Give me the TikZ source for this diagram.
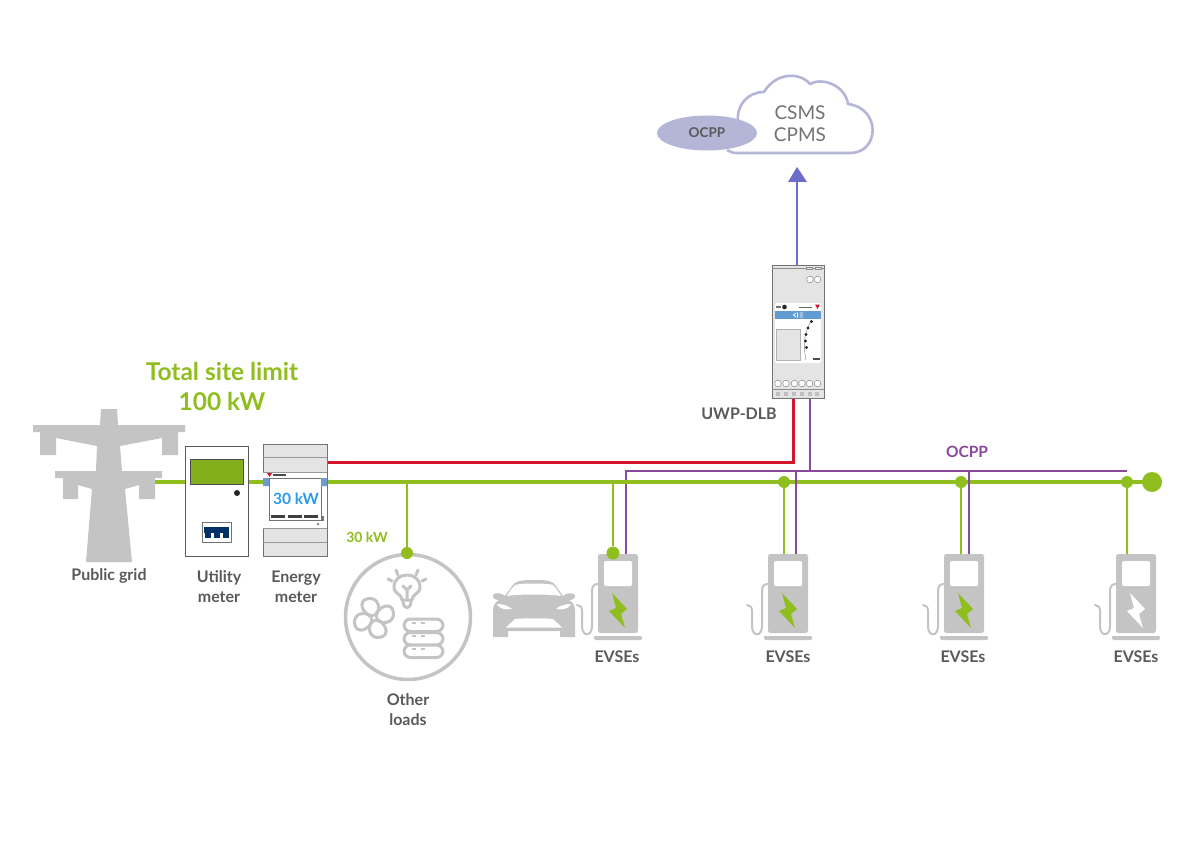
\documentclass[tikz,border=0pt]{standalone}
\usepackage{fontspec}
\setmainfont{Lato}
\usetikzlibrary{calc,shapes.geometric}
\definecolor{leaf}{HTML}{8FBE1E}
\definecolor{silver}{HTML}{C4C4C4}
\definecolor{panel}{HTML}{E4E4E4}
\definecolor{ink}{HTML}{5A5A5A}
\definecolor{wine}{HTML}{8A4A9C}
\definecolor{signal}{HTML}{D5152B}
\definecolor{lilac}{HTML}{B5B5D8}
\definecolor{violet}{HTML}{6C6CCB}
\definecolor{sky}{HTML}{2A9BE8}
\definecolor{tab}{HTML}{6B9BD0}
\tikzset{
  caption/.style={text=ink,font=\bfseries\fontsize{16}{20}\selectfont,align=center,inner sep=0pt},
  busline/.style={draw=leaf,line width=4pt},
  dropline/.style={draw=leaf,line width=2.8pt},
  dataline/.style={draw=wine,line width=2.8pt},
  powerdot/.style={circle,fill=leaf,inner sep=0pt},
  junction/.style={powerdot,minimum size=13pt},
  hosecurve/.style={draw=silver,line width=2pt,line cap=round},
  loadicon/.style={draw=silver,line width=3pt,line cap=round,line join=round},
  evsebody/.style={fill=silver,rounded corners=2.5pt,inner sep=0pt,minimum width=40pt,minimum height=79pt},
  casing/.style={draw=black!55,line width=.7pt,fill=panel}
}
% Charging post: body, screen, base, hose and lightning bolt
\newcommand{\chargepost}[3]{%
  \node[evsebody] (#2) at (#1+20,593.5) {};
  \begin{scope}[shift={(#1,0)}]
    \fill[white,rounded corners=1.5pt] (6,561) rectangle (34,586);
    \fill[silver,rounded corners=1.5pt] (-4,640) -- (-4,638) .. controls (-4,637) and (-3,636) .. (-2,636) -- (42,636) .. controls (43,636) and (44,637) .. (44,640) -- cycle;
    \draw[hosecurve] (0,584) .. controls (-4,584) and (-6,586) .. (-6,591) -- (-6,626)
      .. controls (-6,637) and (-16,637) .. (-16,626) -- (-16,611) .. controls (-16,607) and (-18,605) .. (-21,605);
    \fill[#3] (14,593) -- (29,609) -- (23,614) -- (27,628) -- (11,611) -- (18,608) -- cycle;
  \end{scope}}
\begin{document}
\begin{tikzpicture}[x=1pt,y=-1pt]
\useasboundingbox (0,0) rectangle (1200,848);
\fill[white] (0,0) rectangle (1200,848);

% Anchors of the supply bus and of the controller's terminals
\coordinate (busStart) at (155,482);
\coordinate (busEnd) at (1152,482);
\coordinate (meterOut) at (327,462);
\coordinate (redTerm) at (793,398);
\coordinate (wineTerm) at (810,398);
\coordinate (ocppStart) at (626,471);
\coordinate (ocppEnd) at (1127,471);

% Charging posts
\chargepost{598}{postA}{leaf}
\chargepost{768}{postB}{leaf}
\chargepost{944}{postC}{leaf}
\chargepost{1116}{postD}{white}

% Loads circle
\node[circle,draw=silver,line width=3.5pt,minimum size=125pt,inner sep=0pt] (loads) at (408,617) {};

% Wiring
\draw[draw=signal,line width=3pt] (meterOut) -- (redTerm |- meterOut) -- (redTerm);
\draw[dataline] (wineTerm) -- (wineTerm |- ocppEnd);
\draw[dataline] (ocppEnd) -- (ocppStart) -- (ocppStart |- postA.north);
\draw[busline] (busStart) -- (busEnd);
\node[powerdot,minimum size=20pt] (busTail) at (busEnd) {};
\node[junction,minimum size=12pt] (tapLoads) at (407,553) {};
\node[junction] (tapA) at (613,553) {};
\node[junction,minimum size=12pt] (tapB) at (784,482) {};
\node[junction,minimum size=12pt] (tapC) at (961,482) {};
\node[junction,minimum size=12pt] (tapD) at (1127,482) {};
\draw[dropline] (tapLoads) -- (407,482);
\draw[dropline] (tapA) -- (613,482);
\draw[dropline] (tapB) -- (tapB |- postB.north);
\draw[dropline] (tapC) -- (tapC |- postC.north);
\draw[dropline] (tapD) -- (tapD |- postD.north);
\coordinate (wineB) at (796,471);
\coordinate (wineC) at (969,471);
\draw[dataline] (wineB) -- (wineB |- postB.north);
\draw[dataline] (wineC) -- (wineC |- postC.north);

% Transmission pylon
\fill[silver] (101,409) -- (117,409) -- (118,425) -- (185,425) -- (185,432) -- (178,432) -- (178,455) -- (162,455) -- (162,438)
  -- (120,446) -- (122,471) -- (162,471) -- (162,478) -- (155,478) -- (155,499) -- (139,499) -- (139,485) -- (125,489)
  -- (132,562) -- (86,562) -- (92,489) -- (78,485) -- (78,499) -- (63,499) -- (63,478) -- (55,478) -- (55,471) -- (96,471)
  -- (97,446) -- (56,438) -- (56,455) -- (40,455) -- (40,432) -- (33,432) -- (33,425) -- (100,425) -- cycle;
\node[caption] (gridLabel) at (109,576) {Public grid};

% Utility meter
\node[draw=black!65,line width=.8pt,fill=white,minimum width=63pt,minimum height=110pt,inner sep=0pt] (utility) at (216.5,501) {};
\fill[leaf!92!black,draw=black!70,line width=.7pt] (190,459) rectangle (243,484);
\fill[black!85] (237,493) circle (3);
\draw[draw=black!55,line width=.7pt,fill=white] (202,522) rectangle (231,542);
\fill[blue!35!teal!60!black] (204,527) rectangle (229,533);
\foreach \xx in {205,214,223} \fill[blue!35!teal!60!black] (\xx,533) rectangle (\xx+5.5,538);
\node[caption] (utilityLabel) at (219,587) {Utility\\meter};

% Energy meter
\node[casing,minimum width=64pt,minimum height=112pt,inner sep=0pt] (energy) at (295,500) {};
\fill[white] (263.4,472) rectangle (326.6,528);
\draw[black!40,line width=.6pt] (263,457) -- (327,457) (263,472) -- (327,472) (263,528) -- (327,528) (263,542) -- (327,542);
\fill[signal] (267,473) -- (272,473) -- (269.5,477) -- cycle;
\fill[black!70] (273,474) rectangle (286,475.5);
\draw[draw=black!55,line width=.7pt,fill=white] (269,478) rectangle (321,520);
\fill[tab] (263,478) rectangle (269,486) (321,478) rectangle (327,486);
\foreach \xx in {271,288,304} \fill[black!75] (\xx,515) rectangle (\xx+14,518);
\fill[black!45] (318,524) circle (1.5);
\fill[black!55] (322,516) rectangle (323.5,521);
\node[text=sky,font=\bfseries\fontsize{15.5}{18}\selectfont,inner sep=0pt] (meterValue) at (296,499) {30 kW};
\node[caption] (energyLabel) at (296,587) {Energy\\meter};

% Site limit heading
\node[text=leaf,font=\bfseries\fontsize{24.5}{30}\selectfont,align=center,inner sep=0pt] (limit) at (222,386) {Total site limit\\100 kW};

% Other loads: bulb, fan and stacked units
\node[text=leaf,font=\bfseries\fontsize{14}{17}\selectfont,inner sep=0pt] (loadValue) at (367,537) {30 kW};
\draw[loadicon] (402,600) .. controls (402,594) and (394,594) .. (394,587) .. controls (394,571) and (420,571) .. (420,587) .. controls (420,594) and (412,594) .. (412,600) -- cycle;
\draw[loadicon] (403,601) .. controls (403,610) and (411,610) .. (411,601);
\draw[loadicon] (407,598) -- (407,590) (407,590) -- (403,586) (407,590) -- (411,586);
\draw[loadicon] (396,570) -- (398,575) (418,570) -- (416,575) (388,579) -- (392,581) (426,579) -- (422,581);
\foreach \ang in {8,98,188,278}
  \draw[loadicon,shift={(374,618)},rotate=\ang]
    (0,0) .. controls (-12,-6) and (-14,-20) .. (-3,-20) .. controls (8,-20) and (9,-7) .. (0,0);
\fill[white] (374,618) circle (3);
\draw[silver,line width=2.5pt] (374,618) circle (3);
\foreach \yy in {619,632.5,645}
  \draw[loadicon,rounded corners=6.5pt,fill=white] (404,\yy) rectangle (443,\yy+12.5);
\foreach \yy in {623,636,649}
  \draw[silver,line width=1.5pt] (412,\yy) -- (416,\yy) (421,\yy) -- (425,\yy);
\node[caption] (loadsLabel) at (408,710) {Other\\loads};

% Electric car, front view
\fill[silver] (512,586) .. controls (515,581) and (520,580) .. (534,580) .. controls (548,580) and (553,581) .. (556,586)
  -- (563,596) .. controls (566,593) and (573,592) .. (575,595) .. controls (576,598) and (573,600) .. (569,600)
  .. controls (574,603) and (575,606) .. (575,612) -- (575,637) -- (560,637) -- (560,631) -- (508,631) -- (508,637) -- (493,637)
  -- (493,612) .. controls (493,606) and (494,603) .. (499,600) .. controls (495,600) and (492,598) .. (493,595)
  .. controls (495,592) and (502,593) .. (505,596) -- cycle;
\fill[white] (515,585) .. controls (520,583) and (548,583) .. (553,585) .. controls (556,588) and (559,592) .. (561,596)
  .. controls (550,594) and (518,594) .. (507,596) .. controls (509,592) and (512,588) .. (515,585) -- cycle;
\fill[white] (497,604) .. controls (503,604) and (509,606) .. (512,609) .. controls (506,610) and (499,609) .. (497,604) -- cycle;
\fill[white] (571,604) .. controls (565,604) and (559,606) .. (556,609) .. controls (562,610) and (569,609) .. (571,604) -- cycle;
\fill[white] (515,619) .. controls (525,618) and (543,618) .. (553,619) -- (562,627.5) -- (506,627.5) -- cycle;

% Post captions
\node[caption] (labelA) at (617,657) {EVSEs};
\node[caption] (labelB) at (788,657) {EVSEs};
\node[caption] (labelC) at (963,657) {EVSEs};
\node[caption] (labelD) at (1136,657) {EVSEs};
\node[text=wine,font=\bfseries\fontsize{15.5}{18}\selectfont,inner sep=0pt] (busProtocol) at (967,452) {OCPP};

% DLB controller
\node[casing,minimum width=52pt,minimum height=133pt,inner sep=0pt] (uwp) at (798,331.5) {};
\fill[white,rounded corners=1.5pt] (775,303) rectangle (821,363);
\draw[black!45,line width=.6pt] (772,268.5) -- (824,268.5) (772,389) -- (824,389);
\draw[black!45,line width=.6pt,fill=panel] (806,267) rectangle (812,269.5) (815,267) rectangle (821,269.5);
\foreach \xx in {810,817.5} \draw[black!45,line width=.5pt,fill=white] (\xx,279.5) circle (3.3);
\foreach \xx in {778,786,794.5,802,809.5,817.5} \draw[black!45,line width=.5pt,fill=white] (\xx,383.5) circle (3.3);
\foreach \xx in {778,786,794,802,810,817} \fill[black!25] (\xx-2,392) rectangle (\xx+2,396);
\fill[black!85] (784.5,307) circle (2.3);
\fill[black!55] (776,306) rectangle (781,308);
\fill[black!60] (799,306.5) rectangle (812,308);
\fill[signal] (815,304.5) -- (820,304.5) -- (817.5,309) -- cycle;
\fill[tab!85!sky] (775,311) rectangle (821,318.5);
\draw[white,line width=.8pt] (796,313) -- (793.5,315) -- (796,317) (797.5,312.5) -- (797.5,317.5) (799.5,313) -- (803,313) (799.5,315) -- (803,315) (799.5,317) -- (803,317);
\fill[panel,draw=black!30,line width=.4pt] (776.5,329) rectangle (800,360);
\draw[black!45,line width=.5pt] (811,321) .. controls (806,330) and (802,340) .. (806,360);
\fill[black!85] (811.5,321.5) circle (1.6) (808,328) circle (1.6) (806,334.5) circle (1.6) (805.5,341) circle (1.6) (806.5,347.5) circle (1.6);
\fill[black!70] (813,358) rectangle (820,359.5);
\node[caption] (uwpLabel) at (739,414) {UWP-DLB};

% Cloud platform with protocol badge
\draw[lilac,line width=2.6pt,fill=white,line join=round]
  (727,150) .. controls (730,152) and (733,153) .. (737,153) -- (850,153)
  .. controls (880,153) and (881,108) .. (848,104)
  .. controls (845,85) and (822,77) .. (810,84)
  .. controls (800,72) and (776,72) .. (764,92)
  .. controls (748,92) and (736,105) .. (738,122);
\node[ellipse,fill=lilac,minimum width=100pt,minimum height=35pt,inner sep=0pt,text=ink,font=\bfseries\fontsize{13.5}{16}\selectfont] (cloudProtocol) at (707,133) {OCPP};
\node[text=ink!85,font=\fontsize{19}{22}\selectfont,align=center,inner sep=0pt] (cloudText) at (800,124) {CSMS\\CPMS};

% Uplink to the platform
\coordinate (tipBase) at (797,182);
\draw[violet,line width=2pt] (uwp.north -| tipBase) -- (tipBase);
\fill[violet] (797,167) -- (807,182) -- (788,182) -- cycle;
\end{tikzpicture}
\end{document}
